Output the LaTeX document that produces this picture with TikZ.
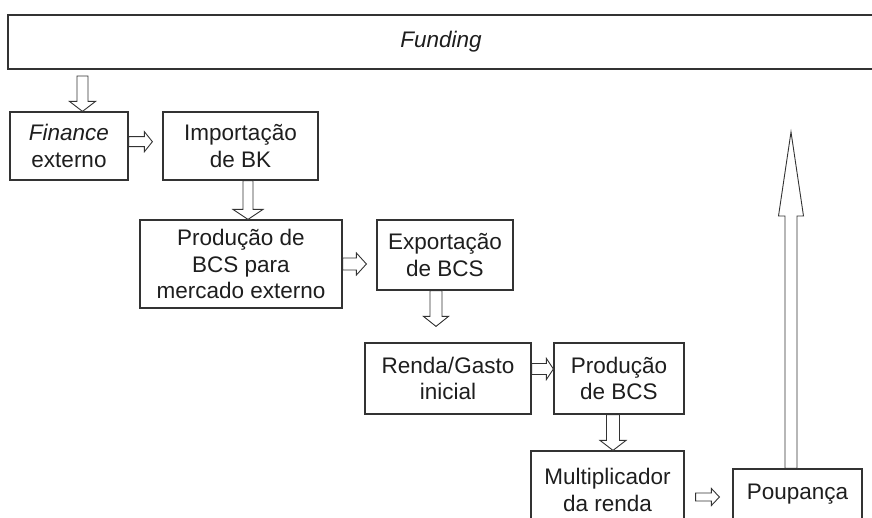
\documentclass[tikz,border=0pt]{standalone}
\usepackage{fontspec}
\setmainfont{Liberation Sans}
\usetikzlibrary{calc}
\definecolor{boxc}{HTML}{333333}
\definecolor{txtc}{HTML}{1E1E1E}
% horizontal right arrow: start, end, shaft half, head half, head length
\newcommand\harr[5]{%
  \path[blk] let \p1=#1, \p2=#2 in
    (\x1,\y1+#3) -- (\x2-#5,\y1+#3) -- (\x2-#5,\y1+#4) -- (\x2,\y1)
    -- (\x2-#5,\y1-#4) -- (\x2-#5,\y1-#3) -- (\x1,\y1-#3) -- cycle;}
% vertical down arrow
\newcommand\varrd[5]{%
  \path[blk] let \p1=#1, \p2=#2 in
    (\x1-#3,\y1) -- (\x1-#3,\y2+#5) -- (\x1-#4,\y2+#5) -- (\x1,\y2)
    -- (\x1+#4,\y2+#5) -- (\x1+#3,\y2+#5) -- (\x1+#3,\y1) -- cycle;}
% vertical up arrow
\newcommand\varru[5]{%
  \path[blk] let \p1=#1, \p2=#2 in
    (\x1-#3,\y1) -- (\x1-#3,\y2-#5) -- (\x1-#4,\y2-#5) -- (\x1,\y2)
    -- (\x1+#4,\y2-#5) -- (\x1+#3,\y2-#5) -- (\x1+#3,\y1) -- cycle;}
\begin{document}
\begin{tikzpicture}[x=1pt,y=-1pt,
  box/.style={draw=boxc, line width=1.2pt, fill=white, align=center,
    inner sep=0pt, text=txtc, font=\fontsize{22.5}{26.5}\selectfont},
  blk/.style={draw=boxc, line width=0.9pt, fill=white, line join=miter}]
\useasboundingbox (0,0) rectangle (872,518);
\clip (0,0) rectangle (872,518);

\node[box, minimum width=866pt, minimum height=54pt] (fund) at (441,42) {\textit{Funding}};
\node[box, minimum width=118pt, minimum height=68pt] (fin) at (69,146) {\textit{Finance}\\externo};
\node[box, minimum width=155pt, minimum height=68pt] (imp) at (240.5,146) {Importação\\de BK};
\node[box, minimum width=202pt, minimum height=88pt] (prod) at (241,264) {Produção de\\BCS para\\mercado externo};
\node[box, minimum width=136pt, minimum height=70pt] (exp) at (445,255) {Exportação\\de BCS};
\node[box, minimum width=166pt, minimum height=71pt] (renda) at (448,378.5) {Renda/Gasto\\inicial};
\node[box, minimum width=130pt, minimum height=71pt] (pbcs) at (619,378.5) {Produção\\de BCS};
\node[box, minimum width=153pt, minimum height=78pt] (mult) at (607.5,490) {Multiplicador\\da renda};
\node[box, minimum width=129pt, minimum height=51pt] (poup) at (797.5,494.5) {Poupança};

\coordinate (a1s) at (82.5,76);
\coordinate (ptop) at (791,132);

\varrd{(a1s)}{(a1s |- fin.north)}{5.5pt}{13pt}{10pt}
\harr{($(fin.east)+(0,-4.3)$)}{($(imp.west)+(-10,0)$)}{5pt}{10pt}{8pt}
\varrd{($(imp.south)+(7.5,0)$)}{(prod.north)}{5pt}{15pt}{10pt}
\harr{(prod.east)}{($(exp.west)+(-10,0)$)}{6pt}{11pt}{10pt}
\varrd{($(exp.south)+(-9,0)$)}{($(renda.north)+(0,-16)$)}{6pt}{12.5pt}{10pt}
\harr{($(renda.east)+(0,-9.5)$)}{(pbcs.west)}{5.5pt}{10.5pt}{7pt}
\varrd{($(pbcs.south)+(-6,0)$)}{(mult.north)}{6.5pt}{13pt}{10pt}
\harr{($(mult.east)+(11,7)$)}{($(poup.west)+(-13,0)$)}{4pt}{8.5pt}{8pt}
\varru{($(poup.north)+(-6.5,0)$)}{(ptop)}{6pt}{12.5pt}{84pt}
\end{tikzpicture}
\end{document}
